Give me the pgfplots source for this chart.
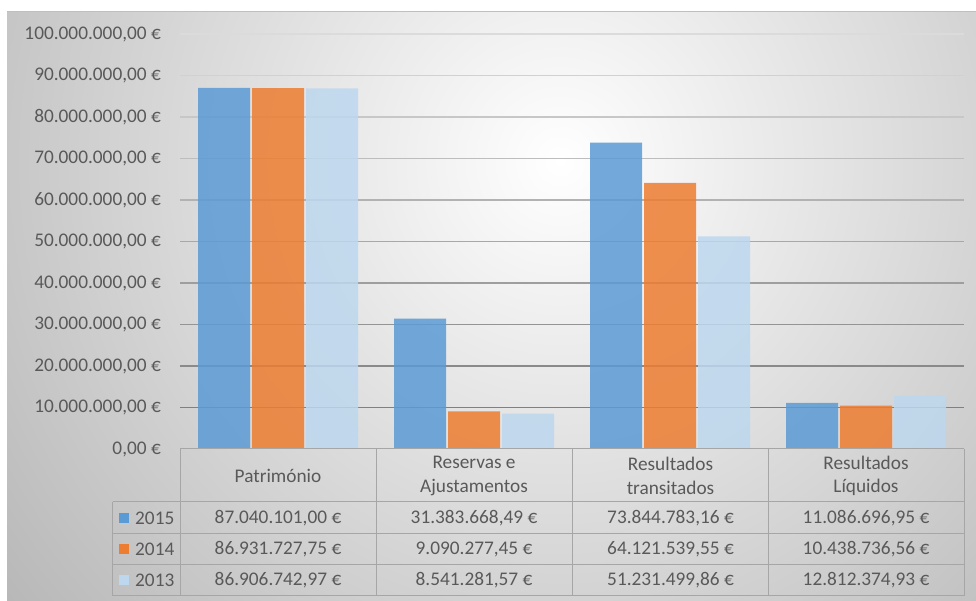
\documentclass[border=0pt]{standalone}
\usepackage{pgfplots}
\pgfplotsset{compat=1.18}
\usepackage{fontspec}
\setmainfont{Carlito}

\definecolor{txt}{HTML}{595959}
\definecolor{c15}{HTML}{5B9BD5}
\definecolor{c14}{HTML}{ED7D31}
\definecolor{c13}{HTML}{BDD7EE}
\definecolor{rule}{HTML}{A6A6A6}
\newcommand\cf{\fontsize{19.3bp}{23.5bp}\selectfont}

\begin{document}
\cf
\begin{tikzpicture}[x=1bp,y=1bp]
\useasboundingbox (0,0) rectangle (976,601);
% chart area with a soft radial gradient
\begin{scope}
  \clip (7,0) rectangle (976,589);
  \shade[inner color=white, outer color=black!30] (560,440) circle (760);
\end{scope}
\draw[black!25, line width=1bp] (7,589) -- (976,589);

\begin{axis}[
  at={(180bp,152bp)}, anchor=south west,
  scale only axis, width=784bp, height=415bp,
  xmin=-0.5, xmax=3.5, ymin=0, ymax=100000000,
  axis line style={draw=none},
  xtick=\empty,
  scaled y ticks=false,
  ytick={0,10000000,20000000,30000000,40000000,50000000,60000000,70000000,80000000,90000000,100000000},
  yticklabels={{0,00 €},{10.000.000,00 €},{20.000.000,00 €},{30.000.000,00 €},{40.000.000,00 €},{50.000.000,00 €},{60.000.000,00 €},{70.000.000,00 €},{80.000.000,00 €},{90.000.000,00 €},{100.000.000,00 €}},
  major tick length=0pt,
  yticklabel style={text=txt, font=\cf, anchor=east, inner sep=0pt, xshift=-19bp},
  clip=false,
]
% horizontal gridlines, darker towards the base
\draw[black!50, line width=1.5bp] (axis cs:-0.5,10000000) -- (axis cs:3.5,10000000);
\draw[black!46, line width=1.5bp] (axis cs:-0.5,20000000) -- (axis cs:3.5,20000000);
\draw[black!42, line width=1.5bp] (axis cs:-0.5,30000000) -- (axis cs:3.5,30000000);
\draw[black!38, line width=1.5bp] (axis cs:-0.5,40000000) -- (axis cs:3.5,40000000);
\draw[black!34, line width=1.5bp] (axis cs:-0.5,50000000) -- (axis cs:3.5,50000000);
\draw[black!30, line width=1.5bp] (axis cs:-0.5,60000000) -- (axis cs:3.5,60000000);
\draw[black!26, line width=1.5bp] (axis cs:-0.5,70000000) -- (axis cs:3.5,70000000);
\draw[black!22, line width=1.5bp] (axis cs:-0.5,80000000) -- (axis cs:3.5,80000000);
\draw[black!18, line width=1.5bp] (axis cs:-0.5,90000000) -- (axis cs:3.5,90000000);
\draw[black!14, line width=1.5bp] (axis cs:-0.5,100000000) -- (axis cs:3.5,100000000);

% 2015
\addplot[ybar, bar width=52bp, bar shift=-54bp, fill=c15, fill opacity=0.85, draw=none]
  coordinates {(0,87040101.00) (1,31383668.49) (2,73844783.16) (3,11086696.95)};
% 2014
\addplot[ybar, bar width=52bp, bar shift=0bp, fill=c14, fill opacity=0.85, draw=none]
  coordinates {(0,86931727.75) (1,9090277.45) (2,64121539.55) (3,10438736.56)};
% 2013
\addplot[ybar, bar width=52bp, bar shift=54bp, fill=c13, fill opacity=0.85, draw=none]
  coordinates {(0,86906742.97) (1,8541281.57) (2,51231499.86) (3,12812374.93)};
\end{axis}

% data table below the bars
\begin{scope}[rule, line width=1bp]
  \draw (180,152) -- (964,152);
  \draw (112.5,99) -- (964,99);
  \draw (112.5,67.5) -- (964,67.5);
  \draw (112.5,36) -- (964,36);
  \draw (112.5,5) -- (964,5);
  \draw (112.5,99) -- (112.5,5);
  \draw (180,152) -- (180,5);
  \draw (376,152) -- (376,5);
  \draw (572.5,152) -- (572.5,5);
  \draw (768.5,152) -- (768.5,5);
  \draw (964,152) -- (964,5);
\end{scope}

\begin{scope}[every node/.style={text=txt, font=\cf, align=center, inner sep=0pt}]
  \node at (278,125.5) {Património};
  \node at (474,125) {Reservas e\\Ajustamentos};
  \node at (670.5,125) {Resultados\\transitados};
  \node at (866,125) {Resultados\\Líquidos};

  \fill[c15] (119,78) rectangle (129,88);
  \fill[c14] (119,46.5) rectangle (129,56.5);
  \fill[c13] (119,15.5) rectangle (129,25.5);
  \node[anchor=west] at (135,83) {2015};
  \node[anchor=west] at (135,51.5) {2014};
  \node[anchor=west] at (135,20.5) {2013};

  \node at (278,83) {87.040.101,00 €};
  \node at (474,83) {31.383.668,49 €};
  \node at (670.5,83) {73.844.783,16 €};
  \node at (866,83) {11.086.696,95 €};

  \node at (278,51.5) {86.931.727,75 €};
  \node at (474,51.5) {9.090.277,45 €};
  \node at (670.5,51.5) {64.121.539,55 €};
  \node at (866,51.5) {10.438.736,56 €};

  \node at (278,20.5) {86.906.742,97 €};
  \node at (474,20.5) {8.541.281,57 €};
  \node at (670.5,20.5) {51.231.499,86 €};
  \node at (866,20.5) {12.812.374,93 €};
\end{scope}
\end{tikzpicture}
\end{document}
